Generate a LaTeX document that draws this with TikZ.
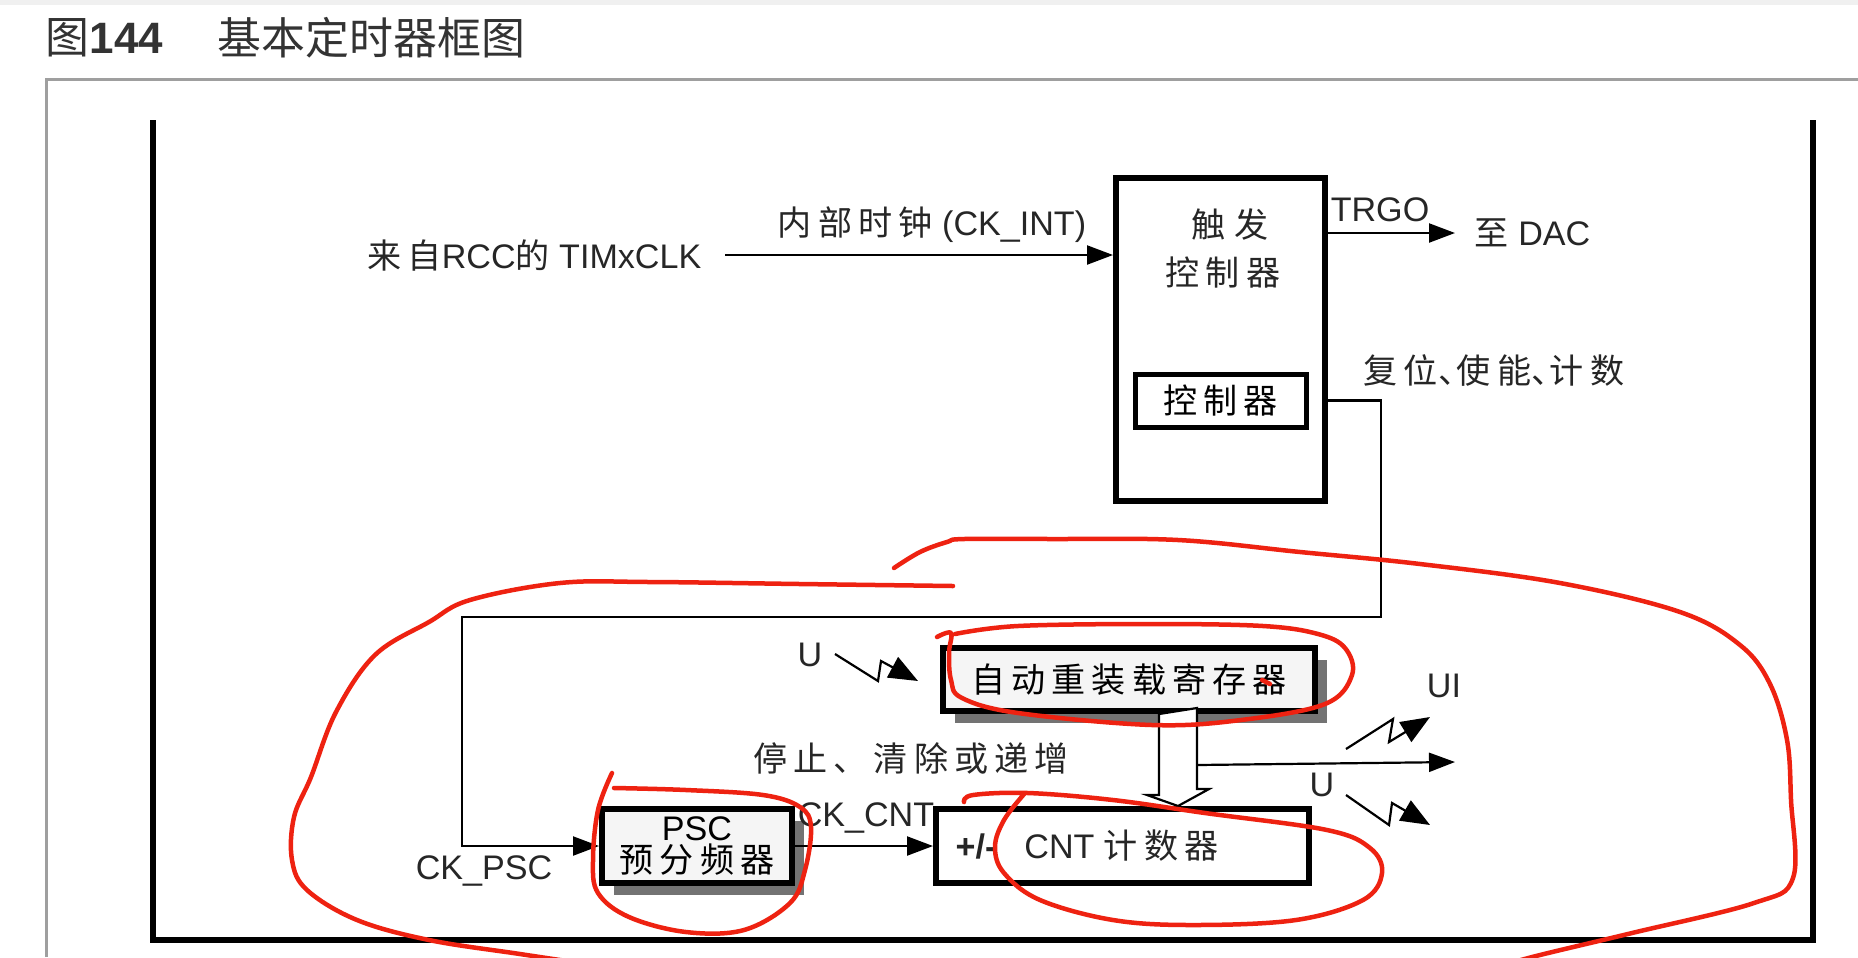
\documentclass[tikz,border=0pt]{standalone}
\usepackage{fontspec}
\setmainfont{Liberation Sans}
\newfontfamily\cjk[LetterSpace=18]{Noto Sans CJK SC}
\newfontfamily\cjkt{Noto Sans CJK SC}
\usetikzlibrary{arrows.meta,positioning,calc,shadows}
\definecolor{inkred}{HTML}{EE2211}
\newcommand\hdun{\makebox[0.55em][l]{、}}

\begin{document}
\begin{tikzpicture}[x=0.1mm, y=-0.1mm,
    lbl/.style={inner sep=0pt, font=\fontsize{9.7}{11}\selectfont, text=black!85},
    ttl/.style={inner sep=0pt, font=\fontsize{12.5}{14}\selectfont, text=black!80},
    blk/.style={draw, line width=0.6mm, inner sep=0pt},
    regbox/.style={blk, fill=gray!8, drop shadow={shadow xshift=1.2mm, shadow yshift=-1.2mm, fill=black!55, opacity=1}},
    wire/.style={line width=0.22mm},
    sig/.style={wire, -{Triangle[length=2.6mm, width=1.9mm]}},
    zap/.style={wire, -{Triangle[length=2.9mm, width=2.3mm]}},
    redink/.style={draw=inkred, line width=0.45mm, line cap=round, line join=round}]
    \useasboundingbox (0,0) rectangle (1858,957);
    \fill[white] (0,0) rectangle (1858,957);
    \fill[gray!12] (0,0) rectangle (1858,5);

    % Title and frames
    \node[ttl, anchor=west] (fig) at (45,38) {{\cjkt 图}\textbf{144}};
    \node[ttl, anchor=west] (figname) at (217,38) {\cjkt 基本定时器框图};
    \draw[gray!75, line width=0.3mm] (46,957) -- (46,79) -- (1858,79);
    \draw[line width=0.6mm] (153,120) -- (153,940) -- (1813,940) -- (1813,120);

    % Blocks
    \node[blk, minimum width=20.9mm, minimum height=32.3mm] (trig) at (1220.5,339.5) {};
    \node[lbl] (trigtxt) at (1230,225) {{\cjk 触}\ {\cjk 发}};
    \node[lbl] (trigtxt2) at (1223,273) {\cjk 控制器};
    \node[blk, line width=0.5mm, minimum width=17.1mm, minimum height=5.3mm, font=\fontsize{9.7}{11}\selectfont\cjk] (ctrl) at (1220.5,400.5) {控制器};
    \node[regbox, minimum width=37.2mm, minimum height=6.3mm, font=\fontsize{9.7}{11}\selectfont\cjk] (arr) at (1129,679.5) {自动重装载寄存器};
    \node[regbox, minimum width=19mm, minimum height=7.4mm, align=center, font=\fontsize{9.7}{9.2}\selectfont] (psc) at (697,846) {PSC\\{\cjk 预分频器}};
    \node[blk, minimum width=37.3mm, minimum height=7.4mm] (cnt) at (1122.5,846) {};
    \node[lbl, anchor=west] (cnttxt) at (955,846) {\textbf{+/-}\hspace{2.8mm}CNT {\cjk 计数器}};

    % Clock input and trigger output
    \node[lbl, anchor=east] (src) at (702,255) {{\cjk 来自}RCC{\cjk 的} TIMxCLK};
    \coordinate (clkin) at (725,255);
    \draw[sig] (clkin) -- (clkin -| trig.west);
    \node[lbl] (ckint) at (932,225) {{\cjk 内部时钟} (CK\_INT)};
    \node[lbl] (trgo) at (1380,210) {TRGO};
    \node[lbl, anchor=west] (dac) at (1474,233) {{\cjk 至} DAC};
    \draw[sig] (trig.east |- dac) -- ($(dac.west)+(-19,0)$);

    % Control to prescaler
    \node[lbl] (rst) at (1494,370) {\cjk 复位\hdun 使能\hdun 计数};
    \coordinate (rt) at (1381,617);
    \coordinate (lt) at (462,617);
    \draw[sig] (ctrl.east -| trig.east) -| (rt) -- (lt) |- (psc.west);
    \node[lbl] (ckpsc) at (484,871) {CK\_PSC};
    \node[lbl] (ckcnt) at (866,818) {CK\_CNT};
    \draw[sig] (psc.east) -- (cnt.west);
    \node[lbl] (stop) at (911,758) {\cjk 停止、清除或递增};

    % Reload path (hollow arrow) and update events
    \coordinate (holtop) at ($(arr.south)+(49,0)$);
    \draw[wire, fill=white] ($(holtop)+(-19,0)$) -- ++(0,81) -- ++(-12,0) -- (holtop |- cnt.north)
        -- ++(31,-17) -- ++(-12,0) -- ++(0,-81) -- cycle;
    \coordinate (holr) at ($(holtop)+(19,51)$);
    \coordinate (uiout) at (1455,762);
    \draw[sig] (holr) -- (uiout);

    \coordinate (zapup) at (1346,749);
    \draw[zap] (zapup) -- ++(47,-30) -- ++(-4,23) -- ++(41,-25);
    \node[lbl] (ui) at (1444,686) {UI};
    \coordinate (zapdn) at (1346,795);
    \draw[zap] (zapdn) -- ++(43,30) -- ++(3,-22) -- ++(38,22);
    \node[lbl] (udn) at (1322,785) {U};
    \coordinate (zapin) at (835,654);
    \draw[zap] (zapin) -- ++(43,27) -- ++(3,-20) -- ++(37,20);
    \node[lbl] (uin) at (810,655) {U};

    % Red hand annotations
    \draw[redink] plot[smooth, tension=0.6] coordinates {(953,586) (800,584) (650,582) (560,583) (470,600) (429,622) (375,655) (336,712) (311,777) (294,817) (292,860) (307,890) (357,920) (429,940) (520,954) (600,966)};
    \draw[redink] plot[smooth, tension=0.6] coordinates {(894,568) (920,552) (947,542) (964,539) (1050,539) (1178,540) (1300,552) (1420,564) (1560,583) (1680,612) (1740,645) (1770,684) (1787,740) (1791,800) (1793,878) (1754,903) (1632,933) (1540,955) (1500,966)};
    \draw[redink] plot[smooth, tension=0.6] coordinates {(937,637) (951,633) (949,653) (951,680) (962,698) (1018,713) (1152,725) (1241,720) (1325,704) (1352,675) (1345,648) (1318,634) (1263,626) (1152,624) (1018,626) (955,634)};
    \draw[redink] plot[smooth, tension=0.6] coordinates {(612,773) (598,810) (593,860) (598,893) (629,917) (686,932) (744,930) (790,903) (805,870) (811,827) (800,807) (763,795) (686,790) (614,788)};
    \draw[redink] plot[smooth, tension=0.6] coordinates {(964,802) (973,795) (1028,793) (1113,800) (1205,813) (1327,830) (1370,848) (1382,873) (1363,900) (1296,920) (1193,925) (1113,920) (1040,900) (1004,873) (995,847) (1004,820) (1025,793)};
    \draw[redink] (1262,680) -- (1270,684);
\end{tikzpicture}
\end{document}
